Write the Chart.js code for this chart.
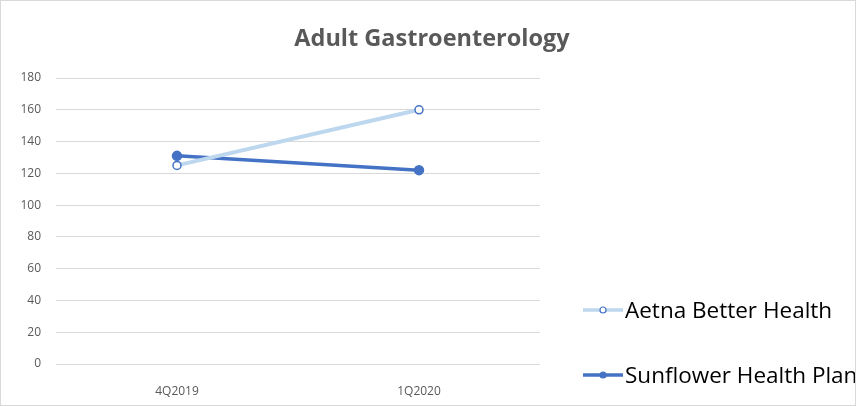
<!DOCTYPE html>
<html>
<head>
<meta charset="utf-8">
<script src="https://cdn.jsdelivr.net/npm/chart.js@4"></script>
<style>
  html, body { margin: 0; padding: 0; background: #fff; }
  #wrap { position: relative; width: 856px; height: 406px; box-sizing: border-box; border: 1px solid #d9d9d9; overflow: hidden; }
  #title { position: absolute; left: 0; width: 862px; top: 20px; text-align: center; font-family: "Open Sans", sans-serif; font-size: 23.5px; font-weight: bold; color: #595959; }
  #legend { position: absolute; left: 582px; top: 0; font-family: "Open Sans", sans-serif; font-size: 22.5px; color: #000; white-space: nowrap; }
  .item { position: absolute; left: 0; display: flex; align-items: center; }
  .item svg { margin-right: 2px; }
</style>
</head>
<body>
<div id="wrap">
  <canvas id="chart" width="854" height="404"></canvas>
  <div id="title">Adult Gastroenterology</div>
  <div id="legend"></div>
</div>
<script>
// Chart values
const quarters = ['4Q2019', '1Q2020'];
const aetnaValues = [125, 160];
const sunflowerValues = [131, 122];
const yTicks = [0, 20, 40, 60, 80, 100, 120, 140, 160, 180];

const seriesNames = ['Aetna Better Health', 'Sunflower Health Plan'];
const lightBlue = '#bdd7ee';
const darkBlue = '#4472c4';
const greyText = '#595959';

document.addEventListener('DOMContentLoaded', function() {
    const ctx = document.getElementById('chart');

    new Chart(ctx, {
        type: 'line',
        data: {
            labels: quarters,
            datasets: [{
                label: seriesNames[0],
                data: aetnaValues,
                borderColor: lightBlue,
                borderWidth: 4,
                pointRadius: 4,
                pointBorderWidth: 1.5,
                pointBackgroundColor: '#ffffff',
                pointBorderColor: darkBlue
            }, {
                label: seriesNames[1],
                data: sunflowerValues,
                borderColor: darkBlue,
                borderWidth: 3.5,
                pointRadius: 3.5,
                pointBackgroundColor: darkBlue,
                pointBorderColor: darkBlue
            }]
        },
        options: {
            responsive: false,
            animation: false,
            layout: { padding: { top: 77, right: 315, bottom: 0, left: 0 } },
            plugins: {
                legend: { display: false },
                tooltip: { enabled: false },
                title: { display: false }
            },
            scales: {
                x: {
                    offset: true,
                    grid: { display: false },
                    border: { display: false },
                    ticks: {
                        color: greyText,
                        font: { family: '"Open Sans", sans-serif', size: 12 },
                        padding: 12
                    },
                    afterFit: function(scale) { scale.height = 41; }
                },
                y: {
                    min: 0,
                    max: 180,
                    afterBuildTicks: function(scale) {
                        scale.ticks = yTicks.map(v => ({ value: v }));
                    },
                    grid: { color: '#d9d9d9', drawTicks: false },
                    border: { display: false },
                    ticks: {
                        color: greyText,
                        font: { family: '"Open Sans", sans-serif', size: 12 },
                        padding: 15
                    },
                    afterFit: function(scale) { scale.width = 55; }
                }
            }
        }
    });

    // Legend built from the series names
    const legend = document.getElementById('legend');
    const rows = [
        { name: seriesNames[0], line: lightBlue, fill: '#ffffff', stroke: darkBlue, top: 293 },
        { name: seriesNames[1], line: darkBlue, fill: darkBlue, stroke: darkBlue, top: 358 }
    ];
    rows.forEach(function(r) {
        const div = document.createElement('div');
        div.className = 'item';
        div.style.top = r.top + 'px';
        div.innerHTML =
            '<svg width="40" height="12"><line x1="0" y1="6" x2="40" y2="6" stroke="' + r.line + '" stroke-width="3.5"/>' +
            '<circle cx="20" cy="6" r="3" fill="' + r.fill + '" stroke="' + r.stroke + '" stroke-width="1.2"/></svg>' +
            '<span>' + r.name + '</span>';
        legend.appendChild(div);
    });
});
</script>
</body>
</html>
